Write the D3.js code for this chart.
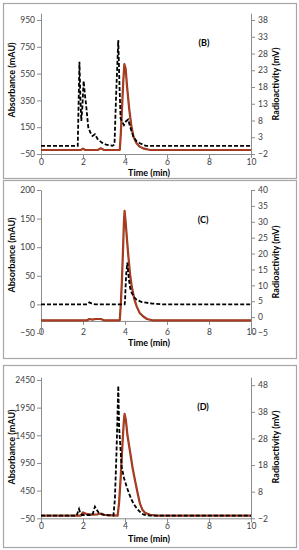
<!DOCTYPE html>
<html>
<head>
<meta charset="utf-8">
<style>
	body { margin: 0; background: #fff; }
	svg text { font-family: Lato, "Open Sans", sans-serif; }
</style>
</head>
<body>
<svg id="chart" width="299" height="550"></svg>
<script src="https://cdnjs.cloudflare.com/ajax/libs/d3/7.8.5/d3.min.js"></script>
<script>
	// time axis
	var timeTicks = [0, 2, 4, 6, 8, 10];

	// panel B : [time (min), value]
	var bAbs = [[0,10],[1.75,10],[1.8,400],[1.83,639],[1.88,350],[1.92,196],[1.97,300],[2.03,495],[2.1,380],[2.14,330],
		[2.25,150],[2.35,110],[2.45,85],[2.57,97],[2.7,60],[2.9,35],[3.1,20],[3.4,12],[3.5,20],[3.58,400],[3.68,801],
		[3.73,500],[3.79,216],[3.87,190],[3.95,166],[4.05,195],[4.15,207],[4.25,150],[4.4,79],[4.55,45],[4.71,30],[5,10],[10,10]];
	var bRad = [[0,-0.8],[1.9,-0.8],[2,-0.4],[2.1,-0.8],[2.7,-0.8],[2.85,-0.3],[3,-0.8],[3.75,-0.8],[3.8,4],[3.86,12],
		[3.92,20],[3.97,24.8],[4.03,23.5],[4.1,18],[4.2,11.5],[4.3,6.5],[4.4,3.2],[4.55,1.2],[4.7,0.2],[4.9,-0.4],[5.2,-0.8],[10,-0.8]];
	var bLeftTicks = [-50, 150, 350, 550, 750, 950];
	var bRightTicks = [-2, 3, 8, 13, 18, 23, 28, 33, 38];

	// panel C
	var cAbs = [[0,0],[2.2,0],[2.3,3.5],[2.45,1],[2.6,0],[3.98,0],[4,5],[4.05,50],[4.11,73],[4.18,45],[4.25,28],[4.32,20],
		[4.45,12],[4.56,8],[4.8,4],[5,3],[5.3,1.5],[5.8,0],[10,0]];
	var cRad = [[0,-1],[2.2,-1],[2.3,-0.6],[2.45,-0.8],[2.6,-0.6],[2.85,-0.6],[3,-1],[3.75,-1],[3.8,4],[3.85,11],[3.9,20],
		[3.95,30],[3.98,33.4],[4.03,30],[4.1,24],[4.16,19.2],[4.24,13.5],[4.32,9.7],[4.45,5.5],[4.56,3.3],[4.7,1.3],[4.87,0.2],
		[5.05,-0.6],[5.3,-1],[10,-1]];
	var cLeftTicks = [-50, 0, 50, 100, 150, 200];
	var cRightTicks = [-5, 0, 5, 10, 15, 20, 25, 30, 35, 40];

	// panel D
	var dAbs = [[0,0],[1.7,0],[1.77,80],[1.81,118],[1.86,60],[1.95,10],[2.45,10],[2.52,100],[2.57,160],[2.63,120],[2.75,50],
		[2.9,20],[3.2,5],[3.45,0],[3.52,300],[3.6,1200],[3.68,2345],[3.72,1600],[3.84,880],[3.95,680],[4.08,520],[4.2,390],
		[4.32,280],[4.44,195],[4.56,130],[4.68,80],[4.79,40],[4.9,15],[5,5],[5.2,0],[10,0]];
	var dRad = [[0,-1],[1.9,-1],[2,0.2],[2.15,-0.3],[2.4,-0.6],[2.7,-0.5],[2.85,-0.2],[3,-0.7],[3.65,-1],[3.72,4],[3.8,14],
		[3.88,26],[3.94,34],[3.98,37.2],[4.04,35],[4.12,29],[4.24,23.1],[4.36,17],[4.48,12.1],[4.6,7.5],[4.71,3.6],[4.83,1.2],
		[4.95,0.1],[5.2,-0.7],[5.5,-1],[10,-1]];
	var dLeftTicks = [-50, 450, 950, 1450, 1950, 2450];
	var dRightTicks = [-2, 8, 18, 28, 38, 48];

	var panels = [
		{ name: "(B)", box: [3, 3, 293, 175], top: 13.3, bottom: 154, left: [-50, 1000], right: [-2, 40],
		  lt: bLeftTicks, rt: bRightTicks, abs: bAbs, rad: bRad, xAt: null, lab: [204, 46], lt1: 80, rt1: 84, title: 175.5 },
		{ name: "(C)", box: [3, 180, 293, 178], top: 190, bottom: 333, left: [-50, 200], right: [-5, 40],
		  lt: cLeftTicks, rt: cRightTicks, abs: cAbs, rad: cRad, xAt: -1.2, lab: [203, 223], lt1: 255, rt1: 262, title: 346 },
		{ name: "(D)", box: [3, 365, 293, 182], top: 377.2, bottom: 518.3, left: [-50, 2500], right: [-2, 51],
		  lt: dLeftTicks, rt: dRightTicks, abs: dAbs, rad: dRad, xAt: null, lab: [203, 410], lt1: 447, rt1: 447, title: 541.5 }
	];

	var svg = d3.select("#chart");
	var x = d3.scaleLinear().domain([0, 10]).range([41, 251]);
	var fmt = d3.format("d");

	panels.forEach(function(p){
		var g = svg.append("g");
		g.append("rect").attr("x", p.box[0] + 0.5).attr("y", p.box[1] + 0.5)
			.attr("width", p.box[2]).attr("height", p.box[3])
			.attr("fill", "none").attr("stroke", "#a6a6a6").attr("stroke-width", 1.2);

		var yl = d3.scaleLinear().domain(p.left).range([p.bottom, p.top]);
		var yr = d3.scaleLinear().domain(p.right).range([p.bottom, p.top]);
		var xy = p.xAt === null ? p.bottom : yr(p.xAt);

		var ax = g.append("g").attr("transform", "translate(0," + xy + ")")
			.call(d3.axisBottom(x).tickValues(timeTicks).tickFormat(fmt).tickSize(4).tickPadding(1).tickSizeOuter(0));
		// in (C) the axis crosses higher up but the labels stay at the bottom
		if(p.xAt !== null) ax.selectAll("text").attr("y", p.bottom - xy - 4);
		g.append("g").attr("transform", "translate(41,0)")
			.call(d3.axisLeft(yl).tickValues(p.lt).tickFormat(fmt).tickSize(4).tickPadding(2).tickSizeOuter(0));
		g.append("g").attr("transform", "translate(251,0)")
			.call(d3.axisRight(yr).tickValues(p.rt).tickFormat(fmt).tickSize(4).tickPadding(3).tickSizeOuter(0));

		g.selectAll(".domain, .tick line").attr("stroke", "#8c8c8c");
		g.selectAll(".tick text").attr("fill", "#404040").style("font-size", "8.5px");

		var lineAbs = d3.line().x(function(d){ return x(d[0]); }).y(function(d){ return yl(d[1]); });
		var lineRad = d3.line().x(function(d){ return x(d[0]); }).y(function(d){ return yr(d[1]); });

		g.append("path").attr("d", lineRad(p.rad)).attr("fill", "none")
			.attr("stroke", "#8a3f1c").attr("stroke-width", 2.2).attr("stroke-linejoin", "round");
		g.append("path").attr("d", lineRad(p.rad)).attr("fill", "none")
			.attr("stroke", "#d8342a").attr("stroke-width", 0.7).attr("stroke-linejoin", "round");
		g.append("path").attr("d", lineAbs(p.abs)).attr("fill", "none")
			.attr("stroke", "#000").attr("stroke-width", 1.8).attr("stroke-dasharray", "4,2");

		g.append("text").attr("x", p.lab[0]).attr("y", p.lab[1]).attr("text-anchor", "middle")
			.style("font-size", "9px").style("font-weight", 700).text(p.name);
		g.append("text").attr("transform", "translate(15," + p.lt1 + ") rotate(-90)").attr("text-anchor", "middle")
			.style("font-size", "9px").style("font-weight", 700).text("Absorbance (mAU)");
		g.append("text").attr("transform", "translate(279," + p.rt1 + ") rotate(-90)").attr("text-anchor", "middle")
			.style("font-size", "9px").style("font-weight", 700).text("Radioactivity (mV)");
		g.append("text").attr("x", 149).attr("y", p.title).attr("text-anchor", "middle")
			.style("font-size", "9px").style("font-weight", 700).text("Time (min)");
	});
</script>
</body>
</html>
